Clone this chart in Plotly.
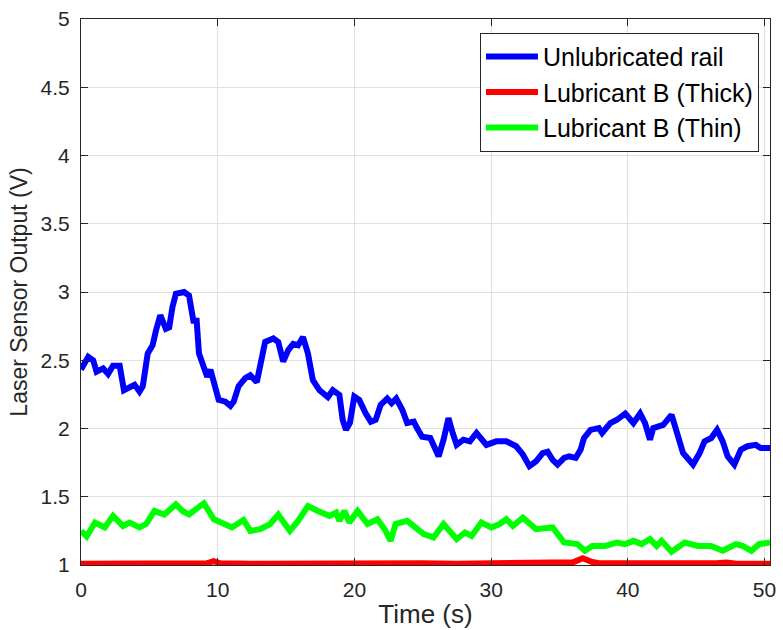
import plotly.graph_objects as go

# Unlubricated rail (blue)
t_unlub = [0.0, 0.53, 0.89, 1.14, 1.62, 1.98, 2.34, 2.83, 3.14, 3.55, 3.92, 4.28, 4.52, 4.88,
           5.24, 5.49, 5.8, 6.21, 6.45, 6.69, 6.94, 7.54, 7.9, 8.22, 8.46, 8.63, 8.99, 9.23,
           9.47, 9.84, 10.07, 10.56, 10.93, 11.17, 11.53, 12.02, 12.38, 12.86, 13.1, 13.47,
           14.07, 14.43, 14.79, 15.16, 15.52, 15.88, 16.24, 16.6, 16.96, 17.45, 18.06, 18.42,
           18.9, 19.14, 19.38, 19.67, 19.99, 20.35, 20.83, 21.2, 21.56, 21.92, 22.4, 22.72,
           23.06, 23.5, 23.86, 24.34, 24.58, 24.95, 25.55, 26.16, 26.52, 26.88, 27.19, 27.48,
           27.97, 28.45, 28.93, 29.66, 30.38, 31.11, 31.83, 32.32, 32.8, 33.29, 33.77, 34.13,
           34.5, 34.86, 35.34, 35.7, 36.19, 36.55, 36.79, 37.27, 37.88, 38.12, 38.72, 39.21,
           39.81, 40.41, 40.9, 41.26, 41.62, 41.86, 42.59, 43.2, 43.56, 44.04, 44.77, 45.25,
           45.61, 46.1, 46.53, 46.94, 47.3, 47.79, 48.27, 48.75, 49.36, 49.72, 50.4]
v_unlub = [2.433, 2.525, 2.50, 2.416, 2.44, 2.40, 2.46, 2.46, 2.28, 2.295, 2.32, 2.27, 2.31, 2.55,
           2.61, 2.72, 2.83, 2.73, 2.74, 2.89, 2.987, 3.0, 2.975, 2.79, 2.79, 2.55, 2.45, 2.38,
           2.43, 2.31, 2.21, 2.197, 2.166, 2.197, 2.31, 2.37, 2.39, 2.34, 2.48, 2.634,
           2.66, 2.634, 2.49, 2.574, 2.62, 2.61, 2.67, 2.55, 2.355, 2.28, 2.23, 2.28,
           2.246, 2.064, 1.99, 2.04, 2.234, 2.21, 2.11, 2.05, 2.064, 2.173, 2.22, 2.185,
           2.22, 2.137, 2.04, 2.05, 2.003, 1.94, 1.93, 1.796, 1.918, 2.076, 1.967, 1.88,
           1.918, 1.906, 1.967, 1.88, 1.906, 1.906, 1.87, 1.81, 1.724, 1.76, 1.82, 1.83,
           1.77, 1.736, 1.785, 1.796, 1.785, 1.845, 1.93, 1.99, 2.003, 1.967, 2.04, 2.064,
           2.11, 2.04, 2.11, 2.04, 1.918, 2.003, 2.027, 2.1, 1.98, 1.82, 1.736, 1.82,
           1.906, 1.93, 1.99, 1.906, 1.796, 1.736, 1.845, 1.87, 1.88, 1.857, 1.857]

# Lubricant B, thick film (red)
t_thick = [0.0, 2.5, 5.0, 7.5, 9.2, 9.7, 10.2, 12.5, 15.0, 17.5, 19.5, 20.0, 20.5, 22.5, 25.0,
           27.5, 30.0, 32.5, 35.0, 36.0, 36.7, 37.4, 38.0, 40.0, 42.5, 45.0, 46.5, 47.2, 48.0, 50.4]
v_thick = [1.010, 1.012, 1.010, 1.013, 1.012, 1.028, 1.012, 1.010, 1.012, 1.010, 1.012, 1.017,
           1.012, 1.010, 1.013, 1.010, 1.012, 1.010, 1.012, 1.020, 1.049, 1.022, 1.012, 1.010,
           1.012, 1.010, 1.012, 1.018, 1.010, 1.010]

# Lubricant B, thin film (green)
t_thin = [0.0, 0.41, 1.02, 1.74, 2.34, 3.07, 3.55, 4.28, 4.76, 5.37, 6.09, 6.94, 7.42, 7.9,
          8.39, 8.99, 9.72, 10.44, 11.04, 11.89, 12.38, 13.1, 13.83, 14.43, 15.28, 15.88,
          16.6, 17.33, 18.18, 18.66, 18.9, 19.27, 19.63, 20.23, 20.96, 21.68, 22.21, 22.65,
          23.01, 23.86, 25.07, 25.79, 26.52, 27.48, 28.09, 28.57, 29.29, 30.02, 30.62, 31.11,
          31.59, 32.32, 33.29, 34.5, 35.34, 36.31, 36.86, 37.4, 38.36, 39.21, 39.81, 40.41,
          41.02, 41.62, 42.11, 42.47, 43.2, 44.16, 45.13, 46.1, 46.94, 47.91, 48.39, 49.04,
          49.6, 50.4]
v_thin = [1.25, 1.209, 1.311, 1.275, 1.36, 1.286, 1.311, 1.275, 1.3, 1.396, 1.37, 1.444, 1.396,
          1.37, 1.408, 1.452, 1.335, 1.3, 1.275, 1.33, 1.25, 1.262, 1.3, 1.37, 1.25, 1.323,
          1.432, 1.396, 1.36, 1.384, 1.323, 1.396, 1.311, 1.396, 1.3, 1.335, 1.262, 1.177,
          1.3, 1.323, 1.226, 1.202, 1.3, 1.19, 1.238, 1.213, 1.311, 1.275, 1.3, 1.335,
          1.286, 1.347, 1.262, 1.275, 1.165, 1.153, 1.104, 1.14, 1.14, 1.165, 1.153, 1.177,
          1.153, 1.19, 1.14, 1.177, 1.097, 1.165, 1.14, 1.14, 1.104, 1.153, 1.14, 1.104,
          1.153, 1.165]

x_ticks = [0, 10, 20, 30, 40, 50]
y_ticks = [1, 1.5, 2, 2.5, 3, 3.5, 4, 4.5, 5]
y_tick_labels = ["1", "1.5", "2", "2.5", "3", "3.5", "4", "4.5", "5"]

font_family = "Liberation Sans, Arial, Helvetica, sans-serif"
ink = "#262626"

fig = go.Figure()
series = [
    ("Unlubricated rail", t_unlub, v_unlub, "#0000ff"),
    ("Lubricant B (Thick)", t_thick, v_thick, "#ff0000"),
    ("Lubricant B (Thin)", t_thin, v_thin, "#00ff00"),
]
for name, t, v, color in series:
    fig.add_trace(go.Scatter(
        x=t, y=v, mode="lines", name=name,
        line=dict(color=color, width=6),
    ))

axis_common = dict(
    showline=True, linecolor=ink, linewidth=1, mirror="ticks",
    ticks="inside", ticklen=7, tickcolor=ink, tickwidth=1,
    showgrid=True, gridcolor="#e0e0e0", gridwidth=1,
    zeroline=False, tickfont=dict(size=21, color=ink, family=font_family),
)

fig.update_xaxes(
    range=[0, 50.4], tickvals=x_ticks, ticklabelstandoff=6,
    title=dict(text="Time (s)", font=dict(size=26, color=ink, family=font_family), standoff=4),
    **axis_common,
)
fig.update_yaxes(
    range=[1, 5], tickvals=y_ticks, ticktext=y_tick_labels, ticklabelstandoff=6,
    title=dict(text="Laser Sensor Output (V)", font=dict(size=23, color=ink, family=font_family), standoff=6),
    **axis_common,
)

fig.update_layout(
    width=783, height=630,
    margin=dict(l=81, r=7, t=17, b=64),
    paper_bgcolor="white", plot_bgcolor="white",
    font=dict(family=font_family, color=ink),
    showlegend=True,
    legend=dict(
        x=0.984, y=0.975, xanchor="right", yanchor="top",
        bgcolor="white", bordercolor=ink, borderwidth=1,
        font=dict(size=25, color="black", family=font_family),
        itemwidth=52,
    ),
)

fig.write_html("out.html")
